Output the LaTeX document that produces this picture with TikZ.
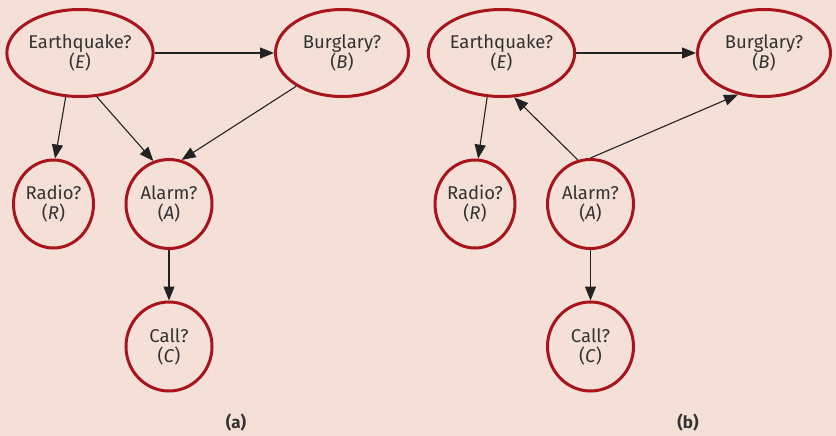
\documentclass[tikz,border=0pt]{standalone}
\usepackage{fontspec}
\setmainfont{Fira Sans}
\usetikzlibrary{shapes.geometric,arrows.meta}
\definecolor{bgpink}{HTML}{F5E0D7}
\definecolor{nodered}{HTML}{A8141C}
\definecolor{txtgray}{HTML}{333333}
\definecolor{arrowgray}{HTML}{222222}
\tikzset{
  bnode/.style={ellipse, draw=nodered, line width=3pt, inner sep=0pt, align=center,
    text=txtgray, font=\fontsize{18.5}{20}\selectfont},
  bigell/.style={bnode, minimum width=133pt, minimum height=87pt},
  radell/.style={bnode, minimum width=80pt, minimum height=88pt},
  cirell/.style={bnode, minimum width=86pt, minimum height=89pt},
  edge/.style={draw=arrowgray, line width=1.1pt, -{Triangle[length=14pt,width=11pt]}},
  panlabel/.style={font=\fontsize{17}{18}\selectfont\bfseries, text=txtgray, inner sep=0pt}
}
\begin{document}
\begin{tikzpicture}[x=1pt,y=-1pt]
\fill[bgpink] (0,0) rectangle (836,436);
\useasboundingbox (0,0) rectangle (836,436);
% panel (a)
\node[bigell] (Ea) at (80,53) {Earthquake?\\(\textit{E})};
\node[bigell] (Ba) at (342,53) {Burglary?\\(\textit{B})};
\node[radell] (Ra) at (53.5,204) {Radio?\\(\textit{R})};
\node[cirell] (Aa) at (169,204) {Alarm?\\(\textit{A})};
\node[cirell] (Ca) at (169,346.5) {Call?\\(\textit{C})};
\draw[edge] (Ea.0) -- (Ba.180);
\draw[edge] (Ea.252) -- (Ra.88);
\draw[edge] (Ea.291) -- (Aa.110);
\draw[edge] (Ba.216) -- (Aa.74);
\draw[edge] (Aa.270) -- (Ca.90);
\node[panlabel] (la) at (236,423) {(a)};
% panel (b)
\node[bigell] (Eb) at (501.5,53) {Earthquake?\\(\textit{E})};
\node[bigell] (Bb) at (764,53) {Burglary?\\(\textit{B})};
\node[radell] (Rb) at (475,204) {Radio?\\(\textit{R})};
\node[cirell] (Ab) at (590.5,204) {Alarm?\\(\textit{A})};
\node[cirell] (Cb) at (590.5,346.5) {Call?\\(\textit{C})};
\draw[edge] (Eb.0) -- (Bb.180);
\draw[edge] (Eb.252) -- (Rb.86);
\draw[edge] (Ab.106) -- (Eb.286);
\draw[edge] (Ab.90) -- (Bb.238);
\draw[edge] (Ab.270) -- (Cb.90);
\node[panlabel] (lb) at (688,423) {(b)};
\end{tikzpicture}
\end{document}
